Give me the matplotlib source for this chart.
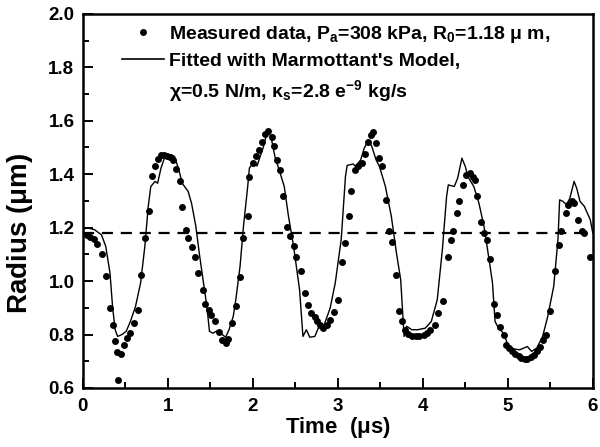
import matplotlib
matplotlib.use('Agg')
import matplotlib.pyplot as plt
from matplotlib.lines import Line2D
from matplotlib.ticker import MultipleLocator

plt.rcParams['font.family'] = ['Liberation Sans', 'DejaVu Sans']
plt.rcParams['font.weight'] = 'bold'
plt.rcParams['mathtext.fontset'] = 'custom'
plt.rcParams['mathtext.rm'] = 'Liberation Sans:bold'
plt.rcParams['mathtext.it'] = 'Liberation Sans:bold'
plt.rcParams['mathtext.bf'] = 'Liberation Sans:bold'
plt.rcParams['mathtext.default'] = 'rm'

# measured radius (dots)
t_meas = [0.05, 0.09, 0.13, 0.17, 0.22, 0.27, 0.32, 0.35, 0.38, 0.40, 0.41, 0.45, 0.49,
          0.52, 0.56, 0.60, 0.65, 0.69, 0.73, 0.78, 0.81, 0.85, 0.88, 0.92, 0.96, 0.99,
          1.03, 1.06, 1.10, 1.14, 1.17, 1.21, 1.24, 1.28, 1.32, 1.36, 1.41, 1.44, 1.48,
          1.51, 1.56, 1.60, 1.64, 1.68, 1.71, 1.76, 1.80, 1.85, 1.89, 1.94, 1.96, 2.00,
          2.04, 2.07, 2.11, 2.14, 2.18, 2.22, 2.25, 2.29, 2.32, 2.36, 2.40, 2.44, 2.48,
          2.51, 2.57, 2.61, 2.65, 2.69, 2.73, 2.76, 2.79, 2.83, 2.87, 2.91, 2.96, 3.00,
          3.05, 3.09, 3.13, 3.16, 3.20, 3.24, 3.28, 3.32, 3.35, 3.39, 3.41, 3.45, 3.49,
          3.52, 3.57, 3.60, 3.64, 3.68, 3.72, 3.76, 3.79, 3.83, 3.87, 3.92, 3.96, 4.01,
          4.05, 4.09, 4.14, 4.18, 4.24, 4.30, 4.33, 4.36, 4.40, 4.43, 4.47, 4.51, 4.55,
          4.59, 4.62, 4.64, 4.69, 4.72, 4.76, 4.79, 4.84, 4.87, 4.91, 4.95, 4.98, 5.02,
          5.05, 5.09, 5.13, 5.16, 5.20, 5.23, 5.27, 5.31, 5.34, 5.38, 5.41, 5.45, 5.50,
          5.55, 5.60, 5.63, 5.68, 5.71, 5.75, 5.78, 5.82, 5.87, 5.90, 5.97]
r_meas = [1.173, 1.165, 1.157, 1.140, 1.100, 1.020, 0.900, 0.837, 0.775, 0.734, 0.630, 0.728, 0.762,
          0.787, 0.805, 0.843, 0.893, 1.022, 1.160, 1.264, 1.395, 1.431, 1.458, 1.471, 1.471, 1.469,
          1.464, 1.453, 1.419, 1.373, 1.277, 1.192, 1.161, 1.127, 1.092, 1.030, 0.968, 0.913, 0.893,
          0.874, 0.849, 0.808, 0.780, 0.768, 0.783, 0.843, 0.908, 1.015, 1.160, 1.244, 1.391, 1.441,
          1.469, 1.489, 1.522, 1.551, 1.561, 1.541, 1.504, 1.454, 1.416, 1.317, 1.204, 1.170, 1.130,
          1.092, 1.036, 0.955, 0.910, 0.880, 0.864, 0.849, 0.837, 0.824, 0.837, 0.855, 0.883, 0.930,
          1.070, 1.142, 1.244, 1.339, 1.416, 1.429, 1.441, 1.476, 1.522, 1.547, 1.559, 1.516, 1.460,
          1.431, 1.304, 1.186, 1.145, 1.024, 0.887, 0.849, 0.818, 0.802, 0.796, 0.796, 0.796, 0.800,
          0.805, 0.818, 0.837, 0.880, 0.924, 1.090, 1.155, 1.186, 1.254, 1.298, 1.360, 1.397, 1.404,
          1.391, 1.379, 1.317, 1.223, 1.180, 1.155, 1.082, 0.915, 0.874, 0.830, 0.800, 0.762, 0.749,
          0.737, 0.727, 0.718, 0.712, 0.708, 0.708, 0.716, 0.724, 0.737, 0.755, 0.780, 0.800, 0.887,
          1.036, 1.136, 1.186, 1.254, 1.283, 1.298, 1.292, 1.230, 1.186, 1.180, 1.092]

# fitted curve (Marmottant model)
t_fit = [0.0, 0.05, 0.14, 0.22, 0.27, 0.32, 0.35, 0.38, 0.41, 0.46, 0.51, 0.56, 0.62, 0.68,
         0.73, 0.77, 0.80, 0.85, 0.88, 0.92, 0.97, 1.04, 1.08, 1.13, 1.17, 1.24, 1.28, 1.33,
         1.37, 1.42, 1.46, 1.49, 1.53, 1.58, 1.62, 1.68, 1.72, 1.77, 1.80, 1.85, 1.89, 1.94,
         1.96, 2.00, 2.05, 2.08, 2.12, 2.16, 2.19, 2.22, 2.26, 2.31, 2.37, 2.42, 2.48, 2.55,
         2.59, 2.63, 2.67, 2.73, 2.77, 2.84, 2.91, 2.97, 3.04, 3.09, 3.11, 3.18, 3.21, 3.27,
         3.31, 3.36, 3.40, 3.45, 3.49, 3.56, 3.63, 3.69, 3.74, 3.78, 3.81, 3.87, 3.94, 4.03,
         4.10, 4.17, 4.23, 4.28, 4.30, 4.37, 4.41, 4.46, 4.50, 4.53, 4.60, 4.66, 4.72, 4.78,
         4.82, 4.85, 4.89, 4.95, 5.00, 5.07, 5.14, 5.23, 5.28, 5.34, 5.41, 5.47, 5.54, 5.59,
         5.61, 5.65, 5.69, 5.73, 5.78, 5.81, 5.85, 5.90, 5.97, 6.0]
r_fit = [1.192, 1.200, 1.192, 1.173, 1.130, 1.030, 0.905, 0.818, 0.793, 0.800, 0.812, 0.849, 0.905, 0.993,
         1.130, 1.280, 1.354, 1.373, 1.366, 1.423, 1.469, 1.473, 1.466, 1.416, 1.366, 1.335, 1.290, 1.205,
         1.105, 0.993, 0.905, 0.812, 0.805, 0.814, 0.805, 0.790, 0.818, 0.868, 0.930, 1.055, 1.204, 1.354,
         1.423, 1.441, 1.431, 1.460, 1.497, 1.547, 1.560, 1.531, 1.466, 1.416, 1.354, 1.242, 1.130, 0.968,
         0.793, 0.818, 0.790, 0.793, 0.824, 0.837, 0.899, 0.993, 1.155, 1.391, 1.433, 1.438, 1.429, 1.454,
         1.497, 1.528, 1.504, 1.454, 1.429, 1.354, 1.242, 1.105, 1.005, 0.793, 0.831, 0.818, 0.818, 0.824,
         0.849, 0.930, 1.117, 1.317, 1.360, 1.354, 1.385, 1.460, 1.429, 1.391, 1.354, 1.292, 1.205, 1.080,
         0.993, 0.849, 0.824, 0.805, 0.762, 0.746, 0.743, 0.755, 0.737, 0.749, 0.793, 0.868, 0.980, 1.155,
         1.304, 1.298, 1.286, 1.310, 1.373, 1.348, 1.298, 1.280, 1.230, 1.180]

R0 = 1.18

fig = plt.figure(figsize=(6, 4.47), dpi=100)
ax = fig.add_axes([0.138, 0.132, 0.850, 0.837])

ax.plot(t_meas, r_meas, 'o', color='black', ms=5, mec='none')
ax.plot(t_fit, r_fit, '-', color='black', lw=1.0)
ax.axhline(R0, color='black', lw=1.6, ls=(0, (5, 3.5)))

ax.set_xlim(0, 6)
ax.set_ylim(0.6, 2.0)
ax.xaxis.set_major_locator(MultipleLocator(1))
ax.xaxis.set_minor_locator(MultipleLocator(0.5))
ax.yaxis.set_major_locator(MultipleLocator(0.2))
ax.yaxis.set_minor_locator(MultipleLocator(0.1))
ax.tick_params(which='both', direction='in', top=False, right=False, width=1.4, labelsize=13.5)
ax.tick_params(which='major', length=7)
ax.tick_params(which='minor', length=4)
ax.tick_params(axis='x', pad=7)
ax.tick_params(axis='y', pad=6)
for s in ax.spines.values():
    s.set_linewidth(1.8)

ax.set_xlabel('Time  ($\\mathregular{\\mu}$s)', fontsize=16, fontweight='bold', labelpad=0)
ax.set_ylabel('Radius ($\\mathregular{\\mu}$m)', fontsize=20, fontweight='bold')
ax.yaxis.set_label_coords(-0.094, 0.414)

handles = [Line2D([], [], ls='none', marker='o', color='black', ms=5, mec='none'),
           Line2D([], [], color='black', lw=1.2),
           Line2D([], [], ls='none')]
labels = ['Measured data, P$_{a}$=308 kPa, R$_{0}$=1.18 \u03bc m,',
          "Fitted with Marmottant's Model,",
          '\u03c7=0.5 N/m, \u03ba$_{s}$=2.8 e$^{-9}$ kg/s']
ax.legend(handles, labels, loc='upper left', bbox_to_anchor=(0.057, 1.0), frameon=False,
          fontsize=14, handlelength=2.2, handletextpad=0.25, labelspacing=0.4,
          borderaxespad=0.1)

fig.savefig('out.png', dpi=100)
